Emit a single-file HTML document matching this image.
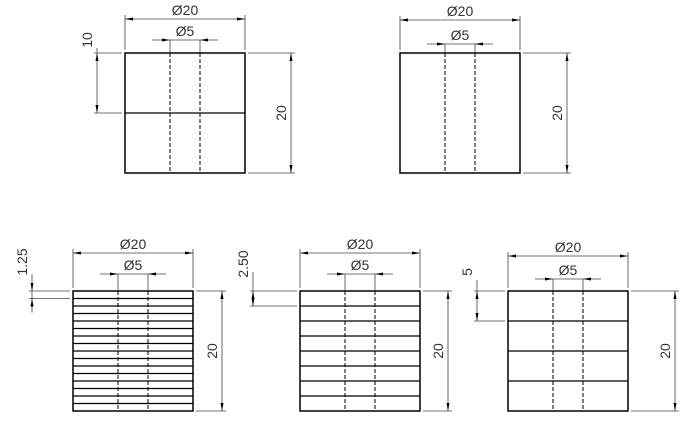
<!DOCTYPE html>
<html><head><meta charset="utf-8"><style>
html,body{margin:0;padding:0;background:#fff;width:688px;height:424px;overflow:hidden}
text{font-family:"Liberation Sans",sans-serif;font-size:14px;fill:#333}
</style></head><body>
<svg id="s" width="688" height="424" xmlns="http://www.w3.org/2000/svg"></svg>
<script>
const s=document.getElementById('s');let h='';
function L(x1,y1,x2,y2,w,c,d){h+=`<line x1="${x1}" y1="${y1}" x2="${x2}" y2="${y2}" stroke="${c||'#000'}" stroke-width="${w||1}" ${d?'stroke-dasharray="4,2"':''}/>`;}
function T(x,y,t,rot){h+=rot?`<text x="${x}" y="${y}" text-anchor="middle" transform="rotate(-90 ${x} ${y})">${t}</text>`:`<text x="${x}" y="${y}" text-anchor="middle">${t}</text>`;}
function AH(x,y,dir){
 const a={l:[[x,y],[x+8,y-1.5],[x+8,y+1.5]],r:[[x,y],[x-8,y-1.5],[x-8,y+1.5]],u:[[x,y],[x-1.5,y+8],[x+1.5,y+8]],d:[[x,y],[x-1.5,y-8],[x+1.5,y-8]]}[dir];
 h+=`<polygon points="${a.map(p=>p.join(',')).join(' ')}" fill="#000"/>`;}
function part(x,y,n,d20y,d5y,lx,lt,ltx,lty,rx){
 const W=120,g='#444';
 h+=`<rect x="${x}" y="${y}" width="${W}" height="${W}" fill="none" stroke="#000" stroke-width="1.5"/>`;
 for(let i=1;i<n;i++)L(x,y+W*i/n,x+W,y+W*i/n,1.3);
 L(x+45,y,x+45,y+W,1,'#000',1);L(x+75,y,x+75,y+W,1,'#000',1);
 L(x,d20y-4,x,y-3,0.8,g);L(x+W,d20y-4,x+W,y-3,0.8,g);
 L(x,d20y,x+W,d20y,0.8,g);AH(x,d20y,'l');AH(x+W,d20y,'r');
 T(x+W/2,d20y-4,'Ø20');
 L(x+45,d5y,x+45,y,0.8,g);L(x+75,d5y,x+75,y,0.8,g);
 L(x+27,d5y,x+93,d5y,0.8,g);AH(x+45,d5y,'r');AH(x+75,d5y,'l');
 T(x+60,d5y-4,'Ø5');
 const p=W/n;
 if(p>10){L(lx-3,y,x-3,y,0.8,g);L(lx-3,y+p,x-3,y+p,0.8,g);L(lx,y,lx,y+p,0.8,g);AH(lx,y,'u');AH(lx,y+p,'d');L(lx,lty+8,lx,y,0.8,g);}
 else{L(lx-3,y,x-3,y,0.8,g);L(lx-3,y+p,x-3,y+p,0.8,g);L(lx,lty+12,lx,y+p+14,0.8,g);AH(lx,y,'d');AH(lx,y+p,'u');}
 T(ltx,lty,lt,1);
 L(x+W+3,y,rx+4,y,0.8,g);L(x+W+3,y+W,rx+4,y+W,0.8,g);
 L(rx,y,rx,y+W,0.8,g);AH(rx,y,'u');AH(rx,y+W,'d');
 T(rx-5,y+W/2,'20',1);
}
part(125,53,2,19,40,97,'10',92,40,291);
(function(){const x=400,y=53,W=120,g='#444';
 h+=`<rect x="${x}" y="${y}" width="${W}" height="${W}" fill="none" stroke="#000" stroke-width="1.5"/>`;
 L(x+45,y,x+45,y+W,1,'#000',1);L(x+75,y,x+75,y+W,1,'#000',1);
 L(x,16,x,y-3,0.8,g);L(x+W,16,x+W,y-3,0.8,g);L(x,20,x+W,20,0.8,g);AH(x,20,'l');AH(x+W,20,'r');T(x+60,16,'Ø20');
 L(x+45,44,x+45,y,0.8,g);L(x+75,44,x+75,y,0.8,g);L(x+27,44,x+93,44,0.8,g);AH(x+45,44,'r');AH(x+75,44,'l');T(x+60,40,'Ø5');
 L(x+W+3,y,571,y,0.8,g);L(x+W+3,y+W,571,y+W,0.8,g);L(567,y,567,y+W,0.8,g);AH(567,y,'u');AH(567,y+W,'d');T(562,113,'20',1);
})();
part(73,291,16,253,274,32,'1.25',27,262,222);
part(300,291,8,253,274,253,'2.50',248,264,448);
part(508,291,4,256,279,477,'5',472,272,675);
s.innerHTML=h;
</script>
</body></html>
